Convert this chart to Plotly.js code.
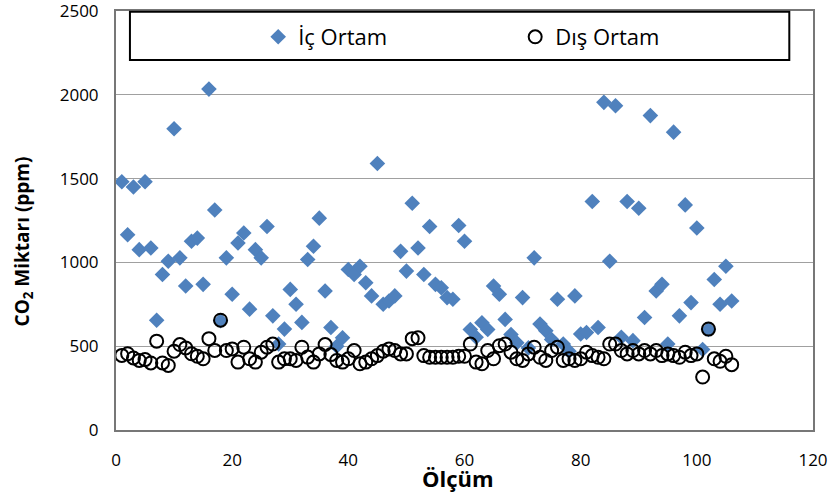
<!DOCTYPE html>
<html>
<head>
<meta charset="utf-8">
<script src="https://cdn.plot.ly/plotly-3.0.1.min.js"></script>
<style>html,body{margin:0;padding:0;background:#fff;}#chart{width:834px;height:494px;}</style>
</head>
<body>
<div id="chart"></div>
<script>
// Measurement index (Ölçüm)
const olcum = Array.from({length: 106}, (_, k) => k + 1);

// İç Ortam (indoor) CO2, ppm
const icOrtam = [
  1481, 1165, 1450, 1076, 1481, 1086, 655, 928, 1007, 1797,
  1027, 859, 1126, 1145, 869, 2034, 1313, 652, 1027, 810,
  1116, 1175, 721, 1076, 1027, 1214, 681, 513, 602, 839,
  750, 642, 1017, 1096, 1264, 829, 612, 500, 550, 958,
  928, 977, 879, 800, 1590, 750, 770, 800, 1066, 948,
  1353, 1086, 928, 1214, 869, 849, 790, 780, 1220, 1126,
  600, 553, 640, 600, 859, 810, 660, 570, 520, 790,
  490, 1027, 632, 592, 540, 780, 513, 470, 800, 573,
  582, 1363, 612, 1955, 1007, 1935, 553, 1363, 533, 1323,
  671, 1876, 829, 869, 513, 1777, 681, 1343, 760, 1205,
  480, 600, 898, 750, 977, 770
];

// Dış Ortam (outdoor) CO2, ppm
const disOrtam = [
  445, 455, 430, 415, 420, 400, 530, 400, 385, 470,
  510, 490, 455, 440, 425, 545, 475, 655, 474, 484,
  405, 494, 425, 405, 464, 494, 513, 405, 425, 425,
  415, 494, 435, 405, 454, 510, 450, 415, 405, 425,
  474, 395, 405, 425, 444, 470, 484, 474, 454, 454,
  545, 550, 444, 434, 434, 434, 434, 434, 440, 440,
  513, 405, 395, 474, 425, 503, 513, 464, 425, 415,
  454, 494, 434, 415, 474, 494, 415, 425, 415, 425,
  464, 444, 434, 425, 513, 513, 474, 454, 474, 454,
  474, 454, 474, 444, 454, 444, 434, 464, 444, 454,
  316, 602, 425, 410, 440, 390
];

const xTicks = [0, 20, 40, 60, 80, 100, 120];
const yTicks = [0, 500, 1000, 1500, 2000, 2500];

const FONT = '"Open Sans", "Liberation Sans", sans-serif';

const traces = [
  {
    x: olcum, y: icOrtam, name: 'İç Ortam', type: 'scatter', mode: 'markers',
    marker: {symbol: 'diamond', size: 12, color: '#4F81BD', line: {width: 0}}
  },
  {
    x: olcum, y: disOrtam, name: 'Dış Ortam', type: 'scatter', mode: 'markers',
    marker: {symbol: 'circle-open', size: 13, color: '#000000', line: {width: 2, color: '#000000'}}
  }
];

const layout = {
  width: 834, height: 494,
  paper_bgcolor: '#ffffff', plot_bgcolor: '#ffffff',
  margin: {l: 116, r: 21, t: 11, b: 64},
  font: {family: FONT, size: 15, color: '#000'},
  showlegend: true,
  legend: {
    orientation: 'h', x: 0.204, xanchor: 'left', y: 0.938, yanchor: 'middle',
    bgcolor: 'rgba(0,0,0,0)', borderwidth: 0,
    font: {family: FONT, size: 22, color: '#000'},
    entrywidth: 212, entrywidthmode: 'pixels', itemwidth: 30
  },
  shapes: [
    {type: 'rect', xref: 'paper', yref: 'paper', x0: 0.02, x1: 0.966, y0: 0.883, y1: 0.998,
     line: {color: '#000', width: 2}, fillcolor: 'rgba(0,0,0,0)', layer: 'above'}
  ],
  annotations: [
    {text: '<b>Ölçüm</b>', xref: 'paper', yref: 'paper', x: 0.49, y: -0.114,
     xanchor: 'center', yanchor: 'middle', showarrow: false,
     font: {family: FONT, size: 22, color: '#000'}},
    {text: '<b>CO<sub>2</sub> Miktarı (ppm)</b>', xref: 'paper', yref: 'paper', x: -0.134, y: 0.449,
     xanchor: 'center', yanchor: 'middle', showarrow: false, textangle: -90,
     font: {family: FONT, size: 19, color: '#000'}}
  ],
  xaxis: {
    range: [0, 120], tickvals: xTicks, ticktext: xTicks.map(String),
    showgrid: false, zeroline: false,
    showline: true, linecolor: '#777', linewidth: 2, mirror: true,
    ticks: '', ticklabelstandoff: 14, ticklabeloverflow: 'allow',
    tickfont: {family: FONT, size: 17, color: '#000'}
  },
  yaxis: {
    range: [0, 2500], tickvals: yTicks, ticktext: yTicks.map(String),
    showgrid: true, gridcolor: '#a0a0a0', gridwidth: 1, zeroline: false,
    showline: true, linecolor: '#777', linewidth: 2, mirror: true,
    ticks: '', ticklabelstandoff: 12, ticklabeloverflow: 'allow',
    tickfont: {family: FONT, size: 17, color: '#000'}
  }
};

Plotly.newPlot('chart', traces, layout, {displayModeBar: false, staticPlot: true});
</script>
</body>
</html>
